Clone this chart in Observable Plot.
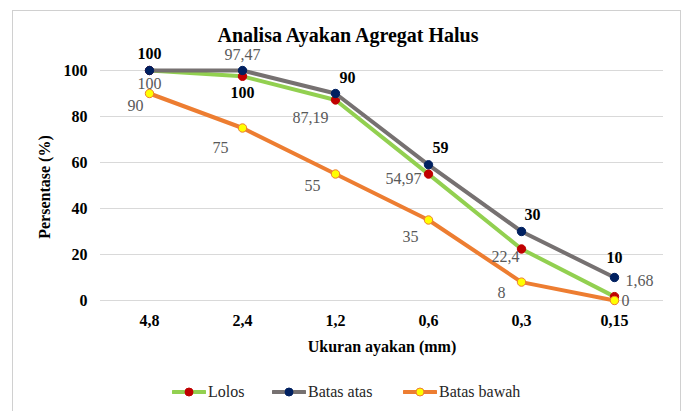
<!DOCTYPE html>
<html>
<head>
<meta charset="utf-8">
<script src="https://cdn.jsdelivr.net/npm/d3@7"></script>
<script src="https://cdn.jsdelivr.net/npm/@observablehq/plot@0.6"></script>
<style>
  html, body { margin: 0; padding: 0; background: #fff; }
  #wrap { position: relative; width: 685px; height: 411px; overflow: hidden; font-family: "Liberation Serif", Tinos, Times, "Times New Roman", "DejaVu Serif", serif; }
  #wrap svg, #wrap svg text { font-family: "Liberation Serif", Tinos, Times, "Times New Roman", "DejaVu Serif", serif !important; }
  #border { position: absolute; left: 12px; top: 10px; width: 669px; height: 420px; border: 1px solid #d0d0d0; box-sizing: border-box; }
  #chart { position: absolute; left: 0; top: 0; }
  .title { position: absolute; left: 0; width: 696px; top: 24px; text-align: center; font-weight: bold; font-size: 20px; color: #000; }
  .ytitle { position: absolute; left: 45px; top: 187px; transform: translate(-50%, -50%) rotate(-90deg); font-weight: bold; font-size: 16px; white-space: nowrap; color: #000; }
  .xtitle { position: absolute; left: 382px; top: 347px; transform: translate(-50%, -50%); font-weight: bold; font-size: 16px; white-space: nowrap; color: #000; }
  .leg { position: absolute; top: 392px; transform: translateY(-50%); display: flex; align-items: center; font-size: 16px; color: #262626; white-space: nowrap; }
  .leg svg { margin-right: 2px; }
</style>
</head>
<body>
<div id="wrap">
  <div id="border"></div>
  <div id="chart"></div>
  <div class="title">Analisa Ayakan Agregat Halus</div>
  <div class="ytitle">Persentase (%)</div>
  <div class="xtitle">Ukuran ayakan (mm)</div>
  <div id="legend"></div>
</div>
<script>
// ---- data ----
const sizes = ["4,8", "2,4", "1,2", "0,6", "0,3", "0,15"];
const lolos = [100, 97.47, 87.19, 54.97, 22.4, 1.68];
const batasAtas = [100, 100, 90, 59, 30, 10];
const batasBawah = [90, 75, 55, 35, 8, 0];
const yTicks = [0, 20, 40, 60, 80, 100];
const seriesNames = ["Lolos", "Batas atas", "Batas bawah"];

// ---- styling / layout config ----
const series = [
  {name: seriesNames[0], values: lolos, line: "#92d050", fill: "#c00000", stroke: "#c00000",
   labelColor: "#595959", labelWeight: "normal",
   offsets: [[0, 13], [0, -21], [-25, 18], [-25, 5], [-16, 8], [25, -16]]},
  {name: seriesNames[1], values: batasAtas, line: "#767171", fill: "#002060", stroke: "#002060",
   labelColor: "#000", labelWeight: "bold",
   offsets: [[0, -17], [0, 22], [12, -16], [12, -17], [11, -17], [0, -20]]},
  {name: seriesNames[2], values: batasBawah, line: "#ed7d31", fill: "#ffff00", stroke: "#ed7d31",
   labelColor: "#595959", labelWeight: "normal",
   offsets: [[-14, 12], [-22, 20], [-23, 12], [-18, 17], [-20, 11], [11, 0]]}
];

const fmt = v => String(v).replace(".", ",");
const idx = d3.range(sizes.length);
const serif = "'Liberation Serif', Tinos, Times, 'Times New Roman', 'DejaVu Serif', serif";

const marks = [
  Plot.gridY(yTicks, {stroke: "#d9d9d9", strokeOpacity: 1, strokeWidth: 1}),
  Plot.axisY(yTicks, {tickSize: 0, tickPadding: 13, label: null, fontSize: 16, fontWeight: "bold", fill: "#000"}),
  Plot.axisX({tickSize: 0, tickPadding: 14, label: null, fontSize: 16, fontWeight: "bold", fill: "#000"})
];
for (const s of series) {
  marks.push(Plot.line(idx, {x: i => sizes[i], y: i => s.values[i], stroke: s.line, strokeWidth: 4, strokeLinejoin: "round", strokeLinecap: "round"}));
  marks.push(Plot.dot(idx, {x: i => sizes[i], y: i => s.values[i], r: 4.2, fill: s.fill, stroke: s.stroke, strokeWidth: 1}));
}
for (const s of series) {
  idx.forEach(i => {
    marks.push(Plot.text([i], {
      x: d => sizes[d], y: d => s.values[d], text: d => fmt(s.values[d]),
      dx: s.offsets[i][0], dy: s.offsets[i][1],
      fill: s.labelColor, fontWeight: s.labelWeight, fontSize: 16, fontFamily: serif
    }));
  });
}

const chart = Plot.plot({
  width: 685,
  height: 411,
  marginLeft: 100,
  marginRight: 22,
  marginTop: 70,
  marginBottom: 111,
  style: {fontFamily: serif, background: "transparent", overflow: "visible"},
  x: {type: "point", domain: sizes, padding: 0.5},
  y: {domain: [0, 100]},
  marks
});
document.getElementById("chart").appendChild(chart);

// ---- legend ----
const legendPos = [172, 272, 403];
const legend = document.getElementById("legend");
series.forEach((s, k) => {
  const div = document.createElement("div");
  div.className = "leg";
  div.style.left = legendPos[k] + "px";
  div.innerHTML = `<svg width="34" height="10"><line x1="1" y1="5" x2="33" y2="5" stroke="${s.line}" stroke-width="4" stroke-linecap="round"/><circle cx="17" cy="5" r="4" fill="${s.fill}" stroke="${s.stroke}" stroke-width="1"/></svg><span>${s.name}</span>`;
  legend.appendChild(div);
});
</script>
</body>
</html>
